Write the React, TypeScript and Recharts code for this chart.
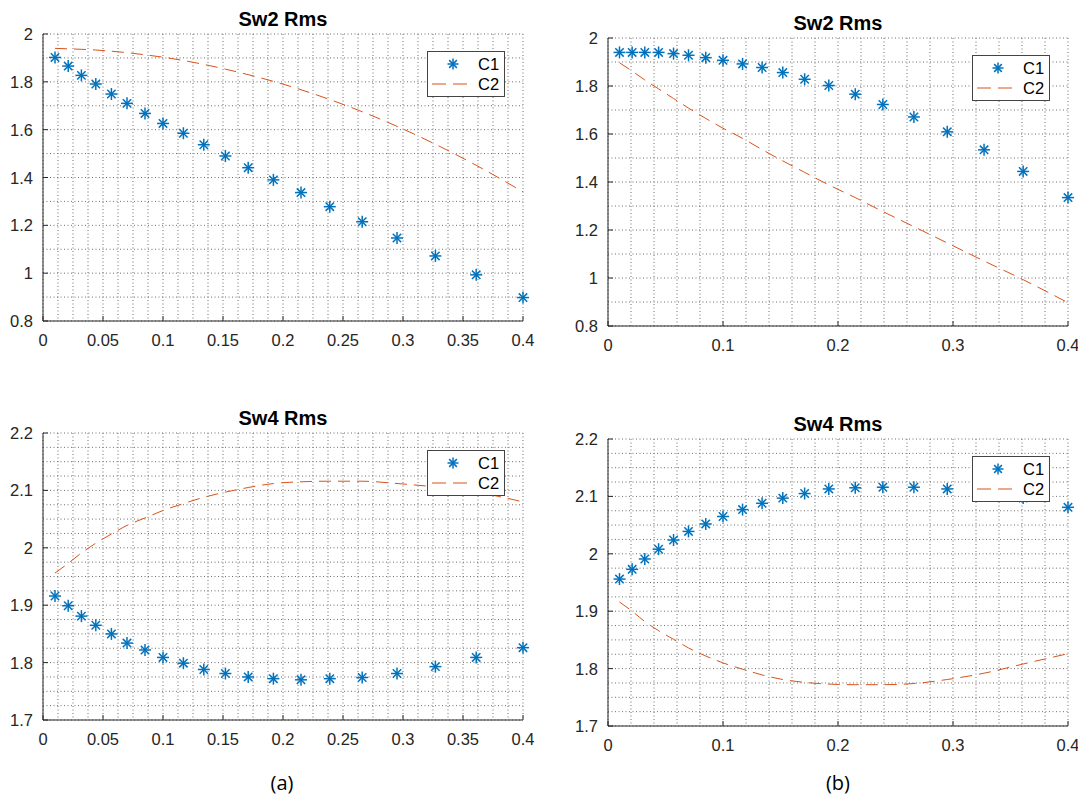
import React from 'react'
import { LineChart, Line, XAxis, YAxis, CartesianGrid } from 'recharts'

// shared x positions of the samples
const xVals = [0.01, 0.021, 0.032, 0.044, 0.057, 0.07, 0.085, 0.1, 0.117, 0.134, 0.152, 0.171, 0.192, 0.215, 0.239, 0.266, 0.295, 0.327, 0.361, 0.4]

// (a) Sw2 Rms
const sw2aC1 = [1.902, 1.866, 1.827, 1.791, 1.749, 1.71, 1.668, 1.626, 1.585, 1.537, 1.49, 1.441, 1.39, 1.337, 1.278, 1.215, 1.147, 1.072, 0.993, 0.898]
const sw2aC2 = [1.94, 1.938, 1.936, 1.933, 1.928, 1.922, 1.913, 1.903, 1.889, 1.873, 1.853, 1.83, 1.802, 1.767, 1.726, 1.675, 1.614, 1.539, 1.451, 1.34]
// (b) Sw2 Rms
const sw2bC1 = [1.94, 1.94, 1.94, 1.94, 1.935, 1.928, 1.918, 1.907, 1.892, 1.877, 1.856, 1.828, 1.802, 1.766, 1.723, 1.671, 1.609, 1.534, 1.444, 1.335]
const sw2bC2 = [1.897, 1.862, 1.825, 1.788, 1.748, 1.708, 1.665, 1.624, 1.582, 1.535, 1.488, 1.44, 1.388, 1.335, 1.277, 1.214, 1.146, 1.071, 0.993, 0.897]
// (a) Sw4 Rms
const sw4aC1 = [1.916, 1.899, 1.881, 1.865, 1.85, 1.834, 1.822, 1.809, 1.799, 1.788, 1.781, 1.775, 1.772, 1.77, 1.772, 1.774, 1.781, 1.793, 1.809, 1.826]
const sw4aC2 = [1.956, 1.973, 1.991, 2.008, 2.024, 2.039, 2.052, 2.065, 2.077, 2.088, 2.097, 2.105, 2.112, 2.115, 2.116, 2.116, 2.112, 2.106, 2.097, 2.08]
// (b) Sw4 Rms
const sw4bC1 = [1.956, 1.973, 1.991, 2.008, 2.024, 2.039, 2.052, 2.065, 2.077, 2.088, 2.097, 2.105, 2.113, 2.115, 2.116, 2.116, 2.113, 2.106, 2.097, 2.081]
const sw4bC2 = [1.916, 1.9, 1.882, 1.866, 1.851, 1.836, 1.822, 1.81, 1.799, 1.789, 1.781, 1.776, 1.773, 1.772, 1.772, 1.774, 1.781, 1.792, 1.808, 1.826]

// tick labels
const xTicksA = [0, 0.05, 0.1, 0.15, 0.2, 0.25, 0.3, 0.35, 0.4]
const xTicksB = [0, 0.1, 0.2, 0.3, 0.4]
const yTicksSw2 = [0.8, 1, 1.2, 1.4, 1.6, 1.8, 2]
const yTicksSw4 = [1.7, 1.8, 1.9, 2, 2.1, 2.2]

const BLUE = '#0072BD'
const ORANGE = '#D95319'
const INK = '#262626'
const FONT = '"Liberation Sans", Arial, Helvetica, sans-serif'

// grid positions between major ticks
function withMinor(major: number[], sub: number) {
  const out: number[] = []
  for (let i = 0; i < major.length; i++) {
    out.push(major[i])
    if (i < major.length - 1) {
      const step = (major[i + 1] - major[i]) / sub
      for (let k = 1; k < sub; k++) out.push(+(major[i] + k * step).toFixed(6))
    }
  }
  return out
}

const isMajor = (v: number, major: number[]) => major.some((m) => Math.abs(m - v) < 1e-9)
const fmt = (v: number) => String(Math.round(v * 1000) / 1000)

function Asterisk({ cx, cy, r = 6 }: { cx?: number; cy?: number; r?: number }) {
  if (cx == null || cy == null) return null
  const d = r * 0.7
  return (
    <g stroke={BLUE} strokeWidth={1.5}>
      <line x1={cx - r} y1={cy} x2={cx + r} y2={cy} />
      <line x1={cx} y1={cy - r} x2={cx} y2={cy + r} />
      <line x1={cx - d} y1={cy - d} x2={cx + d} y2={cy + d} />
      <line x1={cx - d} y1={cy + d} x2={cx + d} y2={cy - d} />
    </g>
  )
}

interface PanelProps {
  title: string
  left: number
  top: number
  plotW: number
  plotH: number
  xMajor: number[]
  xSub: number
  yMajor: number[]
  ySub: number
  c1: number[]
  c2: number[]
  rightMargin: number
}

function Panel({ title, left, top, plotW, plotH, xMajor, xSub, yMajor, ySub, c1, c2, rightMargin }: PanelProps) {
  const LM = 43
  const TM = 34
  const BM = 40
  const W = LM + plotW + rightMargin
  const H = TM + plotH + BM
  const data = xVals.map((x, i) => ({ x, c1: c1[i], c2: c2[i] }))
  const xTicks = withMinor(xMajor, xSub)
  const yTicks = withMinor(yMajor, ySub)
  const xDomain = [xMajor[0], xMajor[xMajor.length - 1]]
  const yDomain = [yMajor[0], yMajor[yMajor.length - 1]]

  const bottomTick = (p: any) => {
    const v = p.payload.value
    if (!isMajor(v, xMajor)) return <g />
    return (
      <g>
        <line x1={p.x} x2={p.x} y1={p.y} y2={p.y - 5} stroke={INK} />
        <text x={p.x} y={p.y + 25} textAnchor="middle" fontSize={16.5} fontFamily={FONT} fill={INK}>{fmt(v)}</text>
      </g>
    )
  }
  const topTick = (p: any) => {
    if (!isMajor(p.payload.value, xMajor)) return <g />
    return <line x1={p.x} x2={p.x} y1={p.y} y2={p.y + 5} stroke={INK} />
  }
  const leftTick = (p: any) => {
    const v = p.payload.value
    if (!isMajor(v, yMajor)) return <g />
    return (
      <g>
        <line x1={p.x} x2={p.x + 5} y1={p.y} y2={p.y} stroke={INK} />
        <text x={p.x - 10} y={p.y + 6} textAnchor="end" fontSize={16.5} fontFamily={FONT} fill={INK}>{fmt(v)}</text>
      </g>
    )
  }
  const rightTick = (p: any) => {
    if (!isMajor(p.payload.value, yMajor)) return <g />
    return <line x1={p.x} x2={p.x - 5} y1={p.y} y2={p.y} stroke={INK} />
  }

  return (
    <div style={{ position: 'absolute', left: left - LM, top: top - TM, width: W, height: H }}>
      <LineChart width={W} height={H} data={data} margin={{ top: TM, right: rightMargin, bottom: 10, left: 0 }}>
        <CartesianGrid stroke="#6e6e6e" strokeDasharray="1 2.5" />
        <XAxis dataKey="x" type="number" domain={xDomain} ticks={xTicks} interval={0} height={30}
          tickSize={0} tickMargin={0} tickLine={false} axisLine={{ stroke: INK }} tick={bottomTick} />
        <XAxis xAxisId="top" orientation="top" type="number" domain={xDomain} ticks={xTicks} interval={0} height={0}
          tickSize={0} tickMargin={0} tickLine={false} axisLine={{ stroke: INK }} tick={topTick} />
        <YAxis type="number" domain={yDomain} ticks={yTicks} interval={0} width={LM}
          tickSize={0} tickMargin={0} tickLine={false} axisLine={{ stroke: INK }} tick={leftTick} />
        <YAxis yAxisId="right" orientation="right" type="number" domain={yDomain} ticks={yTicks} interval={0} width={0}
          tickSize={0} tickMargin={0} tickLine={false} axisLine={{ stroke: INK }} tick={rightTick} />
        <Line dataKey="c2" type="monotone" stroke={ORANGE} strokeWidth={1} strokeDasharray="12 7" dot={false} isAnimationActive={false} />
        <Line dataKey="c1" stroke="none" dot={(p: any) => <Asterisk key={`d${p.index}`} cx={p.cx} cy={p.cy} />} isAnimationActive={false} />
      </LineChart>

      {/* title */}
      <div style={{ position: 'absolute', left: LM, width: plotW, top: TM - 26, lineHeight: '22px', textAlign: 'center', fontFamily: FONT, fontWeight: 700, fontSize: 20, color: '#000' }}>
        {title}
      </div>

      {/* legend */}
      <svg width={78} height={46} style={{ position: 'absolute', left: LM + plotW - 18 - 78, top: TM + 17 }}>
        <rect x={0.5} y={0.5} width={77} height={45} fill="#fff" stroke="#444" />
        <Asterisk cx={26} cy={13} r={5.5} />
        <text x={51} y={19} fontSize={16.5} fontFamily={FONT} fill="#000">C1</text>
        <line x1={5} x2={40} y1={33} y2={33} stroke={ORANGE} strokeWidth={1.2} strokeDasharray="14 7" />
        <text x={51} y={39} fontSize={16.5} fontFamily={FONT} fill="#000">C2</text>
      </svg>
    </div>
  )
}

export default function App() {
  return (
    <div style={{ position: 'absolute', left: 0, top: 0, width: 1083, height: 798, overflow: 'hidden', background: '#fff' }}>
      <Panel title="Sw2 Rms" left={43} top={34} plotW={480} plotH={287} xMajor={xTicksA} xSub={4} yMajor={yTicksSw2} ySub={2} c1={sw2aC1} c2={sw2aC2} rightMargin={14} />
      <Panel title="Sw2 Rms" left={608} top={38} plotW={460} plotH={288} xMajor={xTicksB} xSub={5} yMajor={yTicksSw2} ySub={2} c1={sw2bC1} c2={sw2bC2} rightMargin={10} />
      <Panel title="Sw4 Rms" left={43} top={433} plotW={480} plotH={287} xMajor={xTicksA} xSub={4} yMajor={yTicksSw4} ySub={4} c1={sw4aC1} c2={sw4aC2} rightMargin={14} />
      <Panel title="Sw4 Rms" left={608} top={439} plotW={460} plotH={287} xMajor={xTicksB} xSub={5} yMajor={yTicksSw4} ySub={4} c1={sw4bC1} c2={sw4bC2} rightMargin={10} />

      <div style={{ position: 'absolute', left: 232, width: 100, top: 770, textAlign: 'center', fontFamily: '"Open Sans", "Noto Sans", sans-serif', fontSize: 20, lineHeight: '26px', color: '#000' }}>(a)</div>
      <div style={{ position: 'absolute', left: 788, width: 100, top: 770, textAlign: 'center', fontFamily: '"Open Sans", "Noto Sans", sans-serif', fontSize: 20, lineHeight: '26px', color: '#000' }}>(b)</div>
    </div>
  )
}
